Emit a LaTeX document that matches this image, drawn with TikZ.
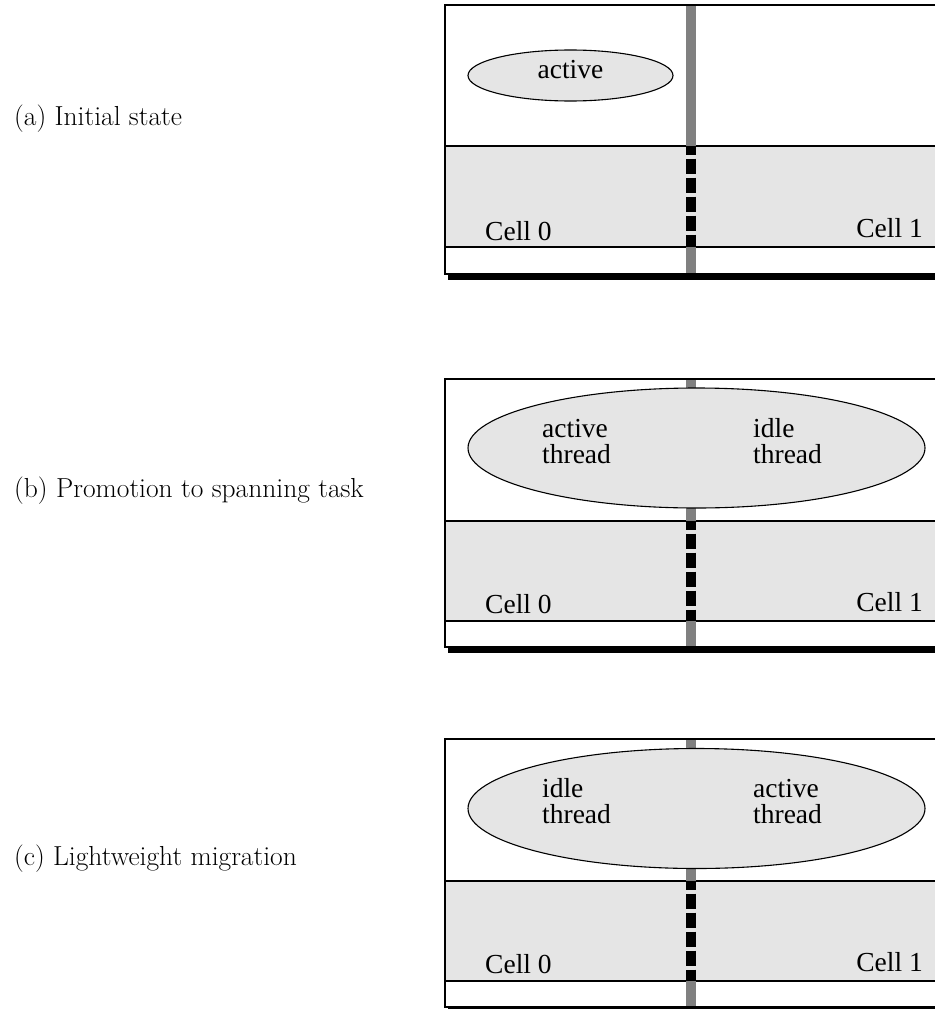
\documentclass[tikz,border=0pt]{standalone}
\RequirePackage{fontspec}
\RequirePackage{tikz}
\usetikzlibrary{shapes.geometric}
\newfontfamily\cellfont{Liberation Serif}

\begin{document}
\begin{tikzpicture}[x=1pt,y=-1pt,
    frame/.style={line width=1.3pt},
    rule/.style={line width=1.1pt},
    memory/.style={fill=black!10},
    link/.style={draw=black!50,line width=10pt},
    bus/.style={draw=black,line width=10pt,dash pattern=on 15.5pt off 3.5pt,dash phase=6.5pt},
    task/.style={ellipse,draw,fill=black!10,line width=1.1pt,inner sep=0pt},
    caption/.style={font=\fontsize{27.5}{32}\selectfont,anchor=base west,inner sep=0pt},
    word/.style={font=\cellfont\fontsize{27.5}{26}\selectfont,inner sep=0pt,align=left}]
    \useasboundingbox (0,0) rectangle (935,1009);

    % (a) initial state
    \fill (448,274) rectangle (935,279.5);
    \fill[memory] (445,146) rectangle (935,247);
    \draw[rule] (445,146) -- (935,146) (445,247) -- (935,247);
    \draw[link] (691,5) -- (691,146) (691,247) -- (691,274);
    \draw[bus] (691,146) -- (691,247);
    \draw[frame] (935,5) -- (445,5) -- (445,274) -- (935,274);
    \node[task,minimum width=205pt,minimum height=51pt] (taskA) at (570.5,75.5) {};
    \node[word,anchor=base] (activeA) at (taskA.center |- 0,78) {active};
    \node[word,anchor=base west] (cellA0) at (485,240) {Cell 0};
    \node[word,anchor=base east] (cellA1) at (923,237) {Cell 1};
    \node[caption] (capA) at (14,125) {(a) Initial state};

    % (b) promotion
    \fill (448,647) rectangle (935,652.5);
    \fill[memory] (445,521) rectangle (935,621);
    \draw[rule] (445,521) -- (935,521) (445,621) -- (935,621);
    \draw[link] (691,379) -- (691,521) (691,621) -- (691,647);
    \draw[bus] (691,521) -- (691,621);
    \draw[frame] (935,379) -- (445,379) -- (445,647) -- (935,647);
    \node[task,minimum width=457pt,minimum height=120pt] (taskB) at (696.5,448) {};
    \node[word,anchor=base west] (activeB) at (542,463) {active\\thread};
    \node[word,anchor=base west] (idleB) at (753,463) {idle\\thread};
    \node[word,anchor=base west] (cellB0) at (485,613) {Cell 0};
    \node[word,anchor=base east] (cellB1) at (923,611) {Cell 1};
    \node[caption] (capB) at (14,497) {(b) Promotion to spanning task};

    % (c) migration
    \fill (448,1007) rectangle (935,1009);
    \fill[memory] (445,881) rectangle (935,981);
    \draw[rule] (445,881) -- (935,881) (445,981) -- (935,981);
    \draw[link] (691,739) -- (691,881) (691,981) -- (691,1007);
    \draw[bus] (691,881) -- (691,981);
    \draw[frame] (935,739) -- (445,739) -- (445,1007) -- (935,1007);
    \node[task,minimum width=457pt,minimum height=120pt] (taskC) at (696.5,808.5) {};
    \node[word,anchor=base west] (idleC) at (542,823) {idle\\thread};
    \node[word,anchor=base west] (activeC) at (753,823) {active\\thread};
    \node[word,anchor=base west] (cellC0) at (485,973) {Cell 0};
    \node[word,anchor=base east] (cellC1) at (923,971) {Cell 1};
    \node[caption] (capC) at (14,865) {(c) Lightweight migration};
\end{tikzpicture}
\end{document}
